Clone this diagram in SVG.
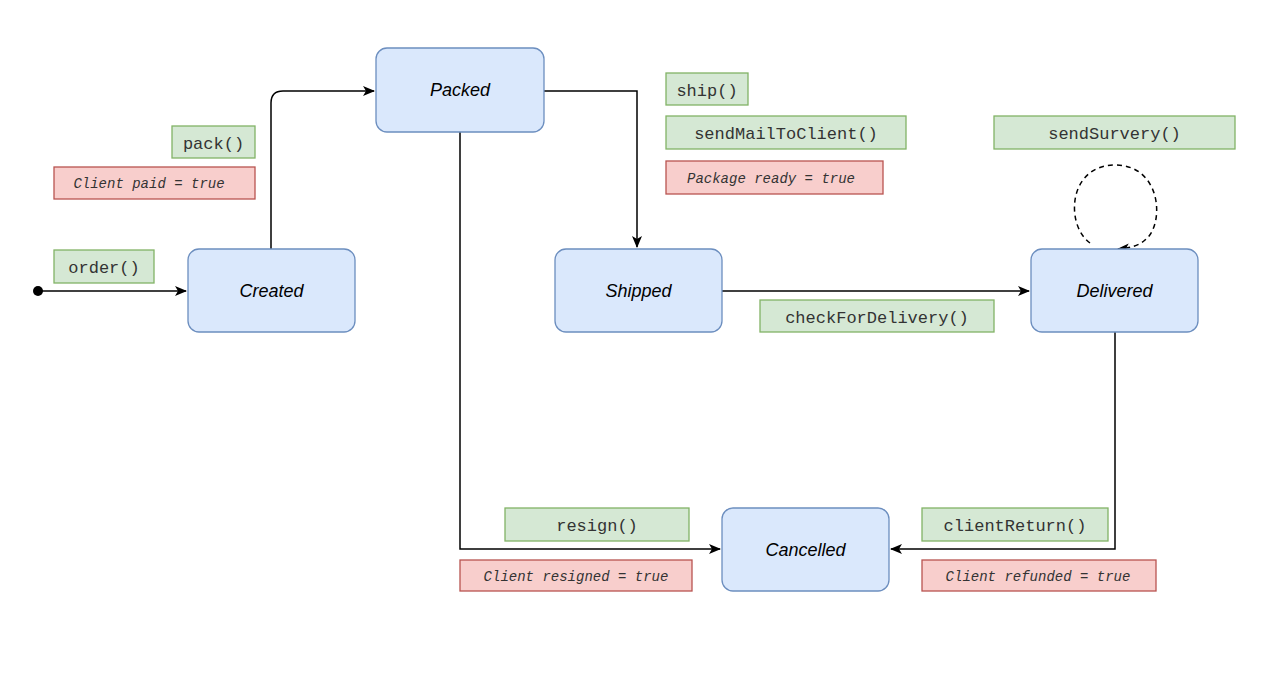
<svg xmlns="http://www.w3.org/2000/svg" width="1280" height="679" viewBox="0 0 1280 679">
<defs>
<marker id="ah" markerWidth="12" markerHeight="10" refX="11" refY="5" orient="auto" markerUnits="userSpaceOnUse"><path d="M0,0 L12,5 L0,10 L3,5 Z" fill="#000"/></marker>
<style>
.st rect{fill:#dae8fc;stroke:#6c8ebf;stroke-width:1.3}
.st text{font-family:"Liberation Sans",Arial,sans-serif;font-style:italic;font-size:18px;text-anchor:middle;fill:#000}
.g rect{fill:#d5e8d4;stroke:#82b366;stroke-width:1.3}
.r rect{fill:#f8cecc;stroke:#b85450;stroke-width:1.3}
.g text{font-family:"Liberation Mono","Courier New",monospace;font-size:17px;text-anchor:middle;fill:#333}
.r text{font-family:"Liberation Mono","Courier New",monospace;font-style:italic;font-size:14px;text-anchor:middle;fill:#333}
.c path{fill:none;stroke:#000;stroke-width:1.5}
</style>
</defs>
<rect width="1280" height="679" fill="#fff"/>
<g class="c">
<circle cx="38" cy="291" r="5" fill="#000"/>
<path d="M38,291 H186" marker-end="url(#ah)"/>
<path d="M271,249 V103 Q271,91 283,91 H374" marker-end="url(#ah)"/>
<path d="M544,91 H637 V247" marker-end="url(#ah)"/>
<path d="M722,291 H1029" marker-end="url(#ah)"/>
<path d="M460,132 V549 H720" marker-end="url(#ah)"/>
<path d="M1115,332 V549 H891" marker-end="url(#ah)"/>
<path d="M1090,243 C1065,225 1068,165 1115,165 C1162,165 1165,225 1145,240 Q1136,248 1118,249" stroke-dasharray="5,4" marker-end="url(#ah)"/>
</g>
<g id="created" class="st"><rect x="188" y="249" width="167" height="83" rx="11"/><text x="271.5" y="297">Created</text></g>
<g id="packed" class="st"><rect x="376" y="48" width="168" height="84" rx="11"/><text x="460" y="96">Packed</text></g>
<g id="shipped" class="st"><rect x="555" y="249" width="167" height="83" rx="11"/><text x="638.5" y="297">Shipped</text></g>
<g id="delivered" class="st"><rect x="1031" y="249" width="167" height="83" rx="11"/><text x="1114.5" y="297">Delivered</text></g>
<g id="cancelled" class="st"><rect x="722" y="508" width="167" height="83" rx="11"/><text x="805.5" y="556">Cancelled</text></g>
<g id="l-order" class="g"><rect x="54" y="250" width="100" height="33"/><text x="104" y="273">order()</text></g>
<g id="l-pack" class="g"><rect x="172" y="126" width="83" height="32"/><text x="213.5" y="149">pack()</text></g>
<g id="l-paid" class="r"><rect x="54" y="167" width="201" height="32"/><text x="149" y="188">Client paid = true</text></g>
<g id="l-ship" class="g"><rect x="666" y="73" width="82" height="32"/><text x="707" y="96">ship()</text></g>
<g id="l-mail" class="g"><rect x="666" y="116" width="240" height="33"/><text x="786" y="139">sendMailToClient()</text></g>
<g id="l-ready" class="r"><rect x="666" y="161" width="217" height="33"/><text x="771" y="183">Package ready = true</text></g>
<g id="l-survey" class="g"><rect x="994" y="116" width="241" height="33"/><text x="1114.5" y="139">sendSurvery()</text></g>
<g id="l-check" class="g"><rect x="760" y="300" width="234" height="32"/><text x="877" y="323">checkForDelivery()</text></g>
<g id="l-resign" class="g"><rect x="505" y="508" width="184" height="33"/><text x="597" y="531">resign()</text></g>
<g id="l-resigned" class="r"><rect x="460" y="560" width="232" height="31"/><text x="576" y="581">Client resigned = true</text></g>
<g id="l-return" class="g"><rect x="922" y="508" width="186" height="33"/><text x="1015" y="531">clientReturn()</text></g>
<g id="l-refunded" class="r"><rect x="922" y="560" width="234" height="31"/><text x="1038" y="581">Client refunded = true</text></g>
</svg>
